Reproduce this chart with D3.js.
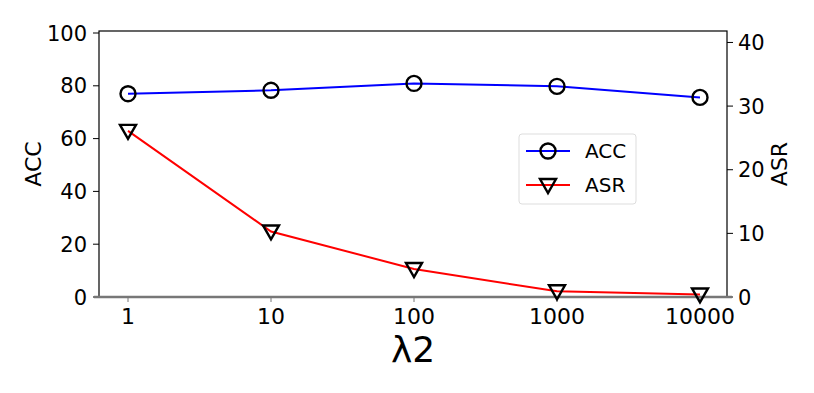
<!DOCTYPE html>
<html>
<head>
<meta charset="UTF-8">
<script src="https://cdn.jsdelivr.net/npm/d3@7"></script>
<style>
  body { margin: 0; background: #fff; }
  text { font-family: "DejaVu Sans", sans-serif; fill: #000; }
</style>
</head>
<body>
<script>
// data
var lambdas = [1, 10, 100, 1000, 10000];
var accValues = [77, 78.3, 80.9, 79.8, 75.6];
var asrValues = [26.1, 10.3, 4.4, 0.9, 0.4];
var accTicks = [0, 20, 40, 60, 80, 100];
var asrTicks = [0, 10, 20, 30, 40];

var W = 814, H = 393;
var mLeft = 99, mRight = 727, mTop = 31, mBottom = 297;

var svg = d3.select("body").append("svg")
    .attr("width", W)
    .attr("height", H);

var x = d3.scaleLog().domain([1, 10000]).range([128, 700]);
var yL = d3.scaleLinear().domain([0, 100]).range([mBottom, mTop + 2]);
var yR = d3.scaleLinear().domain([0, 41.8]).range([mBottom, mTop]);

// frame
svg.append("rect")
    .attr("x", mLeft).attr("y", mTop)
    .attr("width", mRight - mLeft).attr("height", mBottom - mTop)
    .attr("fill", "none").attr("stroke", "#000").attr("stroke-width", 1.2);

// left axis
var gL = svg.append("g");
accTicks.forEach(function(t) {
    gL.append("line")
        .attr("x1", mLeft - 6).attr("x2", mLeft)
        .attr("y1", yL(t)).attr("y2", yL(t))
        .attr("stroke", "#000").attr("stroke-width", 1);
    gL.append("text")
        .attr("x", mLeft - 12).attr("y", yL(t))
        .attr("dy", "0.36em")
        .attr("text-anchor", "end")
        .attr("font-size", 21)
        .text(t);
});

// right axis
var gR = svg.append("g");
asrTicks.forEach(function(t) {
    gR.append("line")
        .attr("x1", mRight).attr("x2", mRight + 6)
        .attr("y1", yR(t)).attr("y2", yR(t))
        .attr("stroke", "#000").attr("stroke-width", 1);
    gR.append("text")
        .attr("x", mRight + 11).attr("y", yR(t))
        .attr("dy", "0.36em")
        .attr("font-size", 21)
        .text(t);
});

// bottom spine (grey, twin axes)
svg.append("line")
    .attr("x1", mLeft - 5).attr("x2", mRight + 5)
    .attr("y1", mBottom).attr("y2", mBottom)
    .attr("stroke", "#777").attr("stroke-width", 2.5);

lambdas.forEach(function(t) {
    svg.append("line")
        .attr("x1", x(t)).attr("x2", x(t))
        .attr("y1", mBottom).attr("y2", mBottom + 5)
        .attr("stroke", "#777").attr("stroke-width", 1);
    svg.append("text")
        .attr("x", x(t)).attr("y", 324)
        .attr("text-anchor", "middle")
        .attr("font-size", 22)
        .text(t);
});

// axis titles
svg.append("text")
    .attr("transform", "translate(41," + ((mTop + mBottom) / 2) + ") rotate(-90)")
    .attr("text-anchor", "middle")
    .attr("font-size", 22)
    .text("ACC");
svg.append("text")
    .attr("transform", "translate(787," + ((mTop + mBottom) / 2) + ") rotate(-90)")
    .attr("text-anchor", "middle")
    .attr("font-size", 22)
    .text("ASR");
svg.append("text")
    .attr("x", 413).attr("y", 362)
    .attr("text-anchor", "middle")
    .attr("font-size", 36)
    .text("λ2");

// lines
var accLine = d3.line().x(function(d, i) { return x(lambdas[i]); }).y(function(d) { return yL(d); });
var asrLine = d3.line().x(function(d, i) { return x(lambdas[i]); }).y(function(d) { return yR(d); });

svg.append("path").datum(asrValues)
    .attr("d", asrLine)
    .attr("fill", "none").attr("stroke", "red").attr("stroke-width", 2);
svg.append("path").datum(accValues)
    .attr("d", accLine)
    .attr("fill", "none").attr("stroke", "blue").attr("stroke-width", 2);

var tri = "M-8,-6L8,-6L0,8Z";

svg.selectAll(".asr").data(asrValues).enter().append("path")
    .attr("transform", function(d, i) { return "translate(" + x(lambdas[i]) + "," + yR(d) + ")"; })
    .attr("d", tri)
    .attr("fill", "none").attr("stroke", "#000").attr("stroke-width", 2.4);

svg.selectAll(".acc").data(accValues).enter().append("circle")
    .attr("cx", function(d, i) { return x(lambdas[i]); })
    .attr("cy", function(d) { return yL(d); })
    .attr("r", 7.5)
    .attr("fill", "none").attr("stroke", "#000").attr("stroke-width", 2.4);

// legend
var lg = svg.append("g").attr("transform", "translate(519,134)");
lg.append("rect")
    .attr("width", 117).attr("height", 70).attr("rx", 3)
    .attr("fill", "#fff").attr("stroke", "#ddd").attr("stroke-width", 1);
lg.append("line").attr("x1", 7).attr("x2", 51).attr("y1", 17).attr("y2", 17)
    .attr("stroke", "blue").attr("stroke-width", 2);
lg.append("circle").attr("cx", 29).attr("cy", 17).attr("r", 7.5)
    .attr("fill", "none").attr("stroke", "#000").attr("stroke-width", 2.4);
lg.append("text").attr("x", 66).attr("y", 17).attr("dy", "0.36em")
    .attr("font-size", 20).text("ACC");
lg.append("line").attr("x1", 7).attr("x2", 51).attr("y1", 51).attr("y2", 51)
    .attr("stroke", "red").attr("stroke-width", 2);
lg.append("path").attr("transform", "translate(29,51)").attr("d", tri)
    .attr("fill", "none").attr("stroke", "#000").attr("stroke-width", 2.4);
lg.append("text").attr("x", 66).attr("y", 51).attr("dy", "0.36em")
    .attr("font-size", 20).text("ASR");
</script>
</body>
</html>
